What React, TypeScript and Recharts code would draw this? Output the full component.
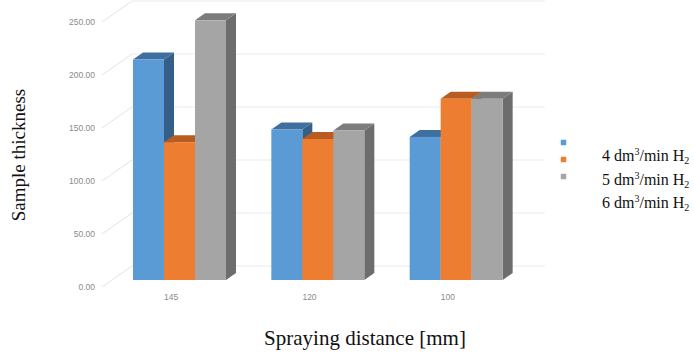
import { BarChart, Bar, XAxis, YAxis, CartesianGrid, Label } from 'recharts';

// spraying distances [mm]
const distances = ['145', '120', '100'];

// sample thickness per hydrogen flow
const h2Flow4 = [208, 142, 135];
const h2Flow5 = [130, 133, 171];
const h2Flow6 = [245, 141, 171];

const yTicks = [0, 50, 100, 150, 200, 250];

const seriesNames = ['4', '5', '6'];

const data = distances.map((d, i) => ({
    distance: d,
    f4: h2Flow4[i],
    f5: h2Flow5[i],
    f6: h2Flow6[i],
}));

const series = [
    { key: 'f4', name: seriesNames[0], front: '#5b9bd5', top: '#3f6f9f', side: '#355f89' },
    { key: 'f5', name: seriesNames[1], front: '#ed7d31', top: '#b95c22', side: '#a8521c' },
    { key: 'f6', name: seriesNames[2], front: '#a5a5a5', top: '#7c7c7c', side: '#6d6d6d' },
];

const DX = 10; // depth of the bars
const DY = 7;

const makeBar3D = (front: string, top: string, side: string) => (props: any) => {
    const { x, y, width, height } = props;
    if (width == null || height == null) return <g />;
    const r = x + width;
    const b = y + height;
    return (
        <g>
            <polygon points={`${r},${y} ${r + DX},${y - DY} ${r + DX},${b - DY} ${r},${b}`} fill={side} />
            <polygon points={`${x},${y} ${x + DX},${y - DY} ${r + DX},${y - DY} ${r},${y}`} fill={top} />
            <rect x={x} y={y} width={width} height={height} fill={front} />
        </g>
    );
};

// grid: diagonal floor/side line plus horizontal line on the back wall
const gridLine = (props: any) => {
    const { y1, x1, index } = props;
    return (
        <g key={`grid-${index}`}>
            <line x1={x1 - 8} y1={y1 + 7} x2={x1 + 22} y2={y1 - 14} stroke="#e3e3e3" strokeWidth={1} />
            <line x1={x1 + 22} y1={y1 - 14} x2={545} y2={y1 - 14} stroke="#ebebeb" strokeWidth={1} />
        </g>
    );
};

const YTick = ({ y, payload }: any) => (
    <text x={95} y={y + 7} textAnchor="end" dominantBaseline="central"
        fontFamily="'Liberation Sans', Arial, sans-serif" fontSize={8.5} fill="#8a8a8a">
        {Number(payload.value).toFixed(2)}
    </text>
);

const XTick = ({ x, payload }: any) => (
    <text x={x - 8} y={297} textAnchor="middle" dominantBaseline="central"
        fontFamily="'Liberation Sans', Arial, sans-serif" fontSize={8.5} fill="#8a8a8a">
        {payload.value}
    </text>
);

const serif = "'Liberation Serif', 'Times New Roman', serif";

const App = () => {
    return (
        <div style={{ position: 'absolute', left: 0, top: 0, width: 694, height: 353, background: '#fff' }}>
            <BarChart
                width={694}
                height={353}
                data={data}
                margin={{ top: 15, right: 169, bottom: 43, left: 0 }}
                barGap={0}
                barSize={31}
            >
                <CartesianGrid vertical={false} horizontal={gridLine} />
                <XAxis dataKey="distance" height={30} axisLine={false} tickLine={false} tick={XTick}>
                    <Label content={() => (
                        <text x={365} y={338} textAnchor="middle" dominantBaseline="central"
                            fontFamily={serif} fontSize={21} fill="#111">
                            Spraying distance [mm]
                        </text>
                    )} />
                </XAxis>
                <YAxis width={110} domain={[0, 250]} ticks={yTicks} axisLine={false} tickLine={false} tick={YTick}>
                    <Label content={() => (
                        <text transform="translate(18,155) rotate(-90)" textAnchor="middle" dominantBaseline="central"
                            fontFamily={serif} fontSize={19} fill="#111">
                            Sample thickness
                        </text>
                    )} />
                </YAxis>
                {series.map(s => (
                    <Bar key={s.key} dataKey={s.key} isAnimationActive={false}
                        fill={s.front} shape={makeBar3D(s.front, s.top, s.side)} />
                ))}
            </BarChart>

            {/* legend: markers and texts are offset from each other like in the source */}
            {series.map((s, i) => (
                <div key={`m-${s.key}`} style={{
                    position: 'absolute', left: 561, top: 140 + i * 17, width: 5, height: 5,
                    background: s.front, boxShadow: `0 0 2px ${s.front}`,
                }} />
            ))}
            {series.map((s, i) => (
                <div key={`t-${s.key}`} style={{
                    position: 'absolute', left: 602, top: 146 + i * 23.7, whiteSpace: 'nowrap',
                    fontFamily: serif, fontSize: 16, lineHeight: '20px', color: '#111',
                }}>
                    {s.name} dm<sup style={{ fontSize: 10, verticalAlign: 6, lineHeight: 0 }}>3</sup>/min H<sub style={{ fontSize: 10, verticalAlign: -3, lineHeight: 0 }}>2</sub>
                </div>
            ))}
        </div>
    );
};

export default App;
